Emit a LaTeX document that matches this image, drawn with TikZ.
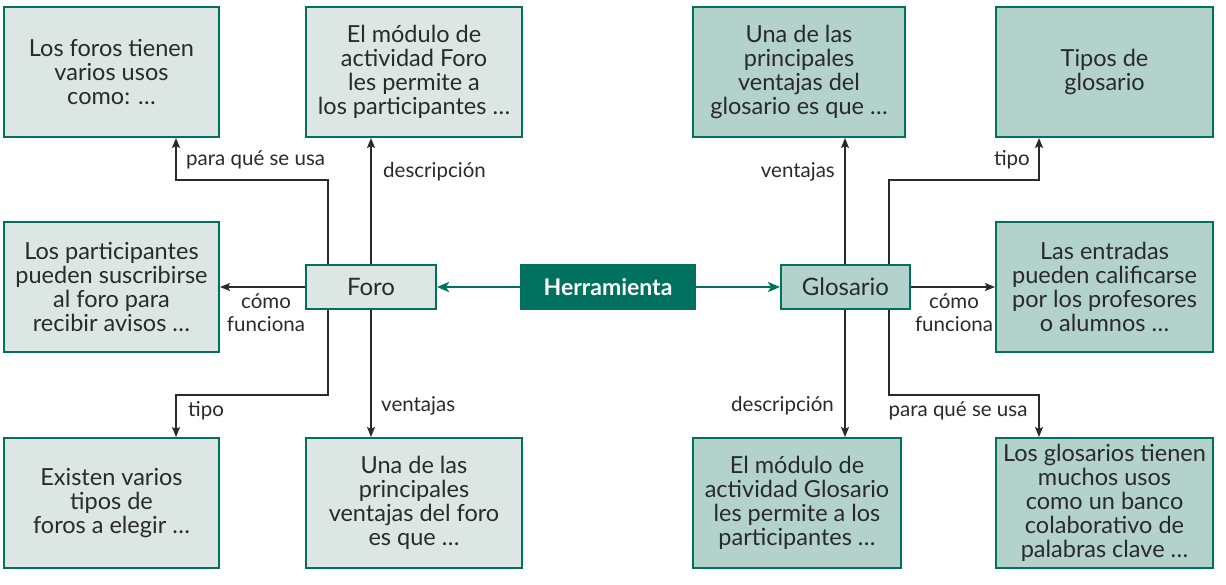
\documentclass[tikz,border=0pt]{standalone}
\usepackage{fontspec}
\setmainfont{Lato}
\usetikzlibrary{arrows.meta}
\definecolor{teal1}{HTML}{00705F}
\definecolor{lightf}{HTML}{DCE6E2}
\definecolor{darkf}{HTML}{B2D2CB}
\definecolor{txt}{HTML}{2A2A2A}
\tikzset{
  box/.style={draw=teal1, line width=2pt, minimum width=215pt, minimum height=130pt, align=center, text=txt, font=\fontsize{23.5}{24}\selectfont, inner sep=0pt},
  lbox/.style={box, fill=lightf},
  dbox/.style={box, fill=darkf},
  hub/.style={draw=teal1, line width=2pt, minimum height=44pt, text=txt, font=\fontsize{24}{24}\selectfont, inner sep=0pt},
  conn/.style={draw=txt, line width=1.5pt, -{Stealth[length=10pt,width=8pt,inset=2pt]}},
  tconn/.style={draw=teal1, line width=2.6pt, -{Stealth[length=12pt,width=10pt,inset=3pt]}},
  lab/.style={text=txt, font=\fontsize{20.5}{23}\selectfont, inner sep=0pt, align=center}
}
\begin{document}
\begin{tikzpicture}[x=1pt,y=-1pt]
\useasboundingbox (0,0) rectangle (1226,584);
% boxes left
\node[lbox] (b1) at (111.5,72) {Los foros tienen\\varios usos\\como: …};
\node[lbox, minimum width=216pt] (b2) at (414,72) {El módulo de\\actividad Foro\\les permite a\\los participantes …};
\node[lbox] (b3) at (111.5,287) {Los participantes\\pueden suscribirse\\al foro para\\recibir avisos …};
\node[lbox] (b4) at (111.5,503) {Existen varios\\tipos de\\foros a elegir …};
\node[lbox, minimum width=216pt] (b5) at (414,503) {Una de las\\principales\\ventajas del foro\\es que …};
% boxes right
\node[dbox, minimum width=212pt] (g1) at (799,72) {Una de las\\principales\\ventajas del\\glosario es que …};
\node[dbox, minimum width=217pt] (g2) at (1104.5,72) {Tipos de\\glosario};
\node[dbox, minimum width=217pt] (g3) at (1104.5,287) {Las entradas\\pueden calificarse\\por los profesores\\o alumnos …};
\node[dbox, minimum width=208pt] (g4) at (797,503) {El módulo de\\actividad Glosario\\les permite a los\\participantes …};
\node[dbox, minimum width=217pt] (g5) at (1104.5,503) {Los glosarios tienen\\muchos usos\\como un banco\\colaborativo de\\palabras clave …};
% hubs
\node[hub, fill=lightf, minimum width=130pt] (foro) at (371,287) {Foro};
\node[hub, fill=teal1, draw=teal1, text=white, minimum width=174pt, font=\fontsize{23}{24}\selectfont\bfseries] (herr) at (608,287) {Herramienta};
\node[hub, fill=darkf, minimum width=129pt] (glos) at (845.5,287) {Glosario};
% teal arrows
\draw[tconn] (herr.west) -- (foro.east);
\draw[tconn] (herr.east) -- (glos.west);
% foro connectors
\coordinate (fa) at (328,180);
\coordinate (fb) at (176,180);
\coordinate (fc) at (328,395);
\coordinate (fd) at (176,395);
\draw[conn] (foro.north -| fa) -- (fa) -- (fb) -- (fb |- b1.south);
\draw[conn] (foro.north) -- (b2.south -| foro.north);
\draw[conn] (foro.south -| fc) -- (fc) -- (fd) -- (fd |- b4.north);
\draw[conn] (foro.south) -- (b5.north -| foro.south);
\draw[conn] (foro.west) -- (b3.east);
% glosario connectors
\coordinate (ga) at (889,180);
\coordinate (gb) at (1039,180);
\coordinate (gc) at (889,395);
\coordinate (gd) at (1039,395);
\coordinate (gx) at (845,0);
\draw[conn] (glos.north -| gx) -- (g1.south -| gx);
\draw[conn] (glos.north -| ga) -- (ga) -- (gb) -- (gb |- g2.south);
\draw[conn] (glos.south -| gx) -- (g4.north -| gx);
\draw[conn] (glos.south -| gc) -- (gc) -- (gd) -- (gd |- g5.north);
\draw[conn] (glos.east) -- (g3.west);
% labels
\node[lab, anchor=west] (l1) at (186,160) {para qué se usa};
\node[lab, anchor=west] (l2) at (383,172) {descripción};
\node[lab] (l3) at (266,313) {cómo\\funciona};
\node[lab, anchor=west] (l4) at (188,411) {tipo};
\node[lab, anchor=west] (l5) at (381,406) {ventajas};
\node[lab, anchor=east] (l6) at (835,172) {ventajas};
\node[lab, anchor=east] (l7) at (1030,160) {tipo};
\node[lab, anchor=east] (l8) at (834,406) {descripción};
\node[lab] (l9) at (958,411) {para qué se usa};
\node[lab] (l10) at (954,313) {cómo\\funciona};
\end{tikzpicture}
\end{document}
